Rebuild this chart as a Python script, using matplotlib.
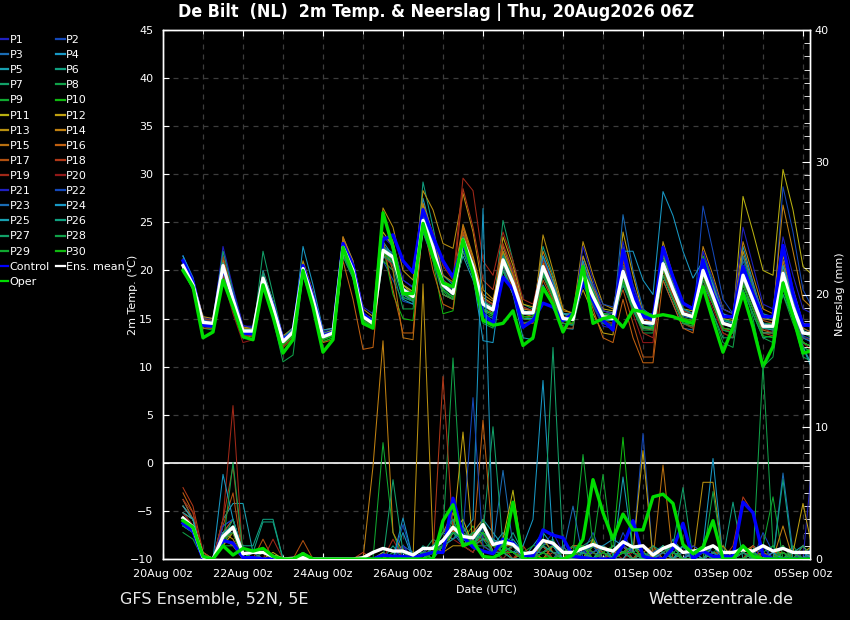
import numpy as np
import pandas as pd
import matplotlib
matplotlib.use('Agg')
import matplotlib.pyplot as plt
from matplotlib.lines import Line2D
from matplotlib.ticker import MultipleLocator

# ---------------- data ----------------
run_first_step = '2026-08-20 12:00'
n_steps = 64
times = pd.date_range(run_first_step, periods=n_steps, freq='6h')

major_tick_dates = pd.date_range('2026-08-20', '2026-09-05', freq='2D')
major_tick_labels = ['20Aug 00z', '22Aug 00z', '24Aug 00z', '26Aug 00z', '28Aug 00z',
                     '30Aug 00z', '01Sep 00z', '03Sep 00z', '05Sep 00z']
minor_tick_dates = pd.date_range('2026-08-20', '2026-09-05', freq='1D')

member_names = ['P%d' % k for k in range(1, 31)]
cold_colors = ['#2020c0', '#1448b8', '#1a6cb4', '#1898c4', '#18a0b0',
               '#10a080', '#12a068', '#10a048', '#10a830', '#10b810']
warm_colors = ['#b8b010', '#c0a010', '#b89010', '#c08010', '#b87010',
               '#c06010', '#b05010', '#b03818', '#a02818', '#901818']
member_colors = cold_colors + warm_colors + cold_colors

# 2m temperature (degC), 6-hourly
t01 = [21.5,19.3,15.1,15.0, 22.0,18.0,14.2,14.2, 19.7,16.7,13.1,14.1, 20.2,17.3,13.6,14.0, 23.4,21.0,16.2,15.5, 23.6,22.7,19.0,18.3, 26.2,23.4,19.5,18.6, 23.2,20.4,16.5,15.9, 20.1,17.7,14.6,14.6, 21.4,18.8,15.5,15.4, 18.7,16.3,14.2,14.0, 21.9,18.3,15.6,15.5, 21.7,19.0,16.5,16.2, 22.0,18.8,15.5,15.2, 21.5,18.4,15.2,15.2, 22.7,18.2,14.5,14.4]
t02 = [20.0,18.2,14.3,14.2, 21.0,17.5,13.9,13.8, 19.5,16.4,12.9,13.7, 20.8,17.4,13.4,13.8, 22.0,19.5,15.0,14.6, 21.0,19.0,16.8,16.5, 24.0,21.0,17.5,17.0, 22.0,19.5,16.0,15.5, 22.5,19.8,16.2,15.8, 19.5,17.2,14.5,14.3, 21.0,18.0,15.5,15.2, 22.5,18.5,15.5,15.0, 19.5,17.0,14.8,14.5, 26.7,22.0,17.0,15.5, 21.0,18.0,15.0,14.8, 28.7,24.0,18.0,16.0]
t03 = [20.8,18.8,14.8,14.6, 20.2,16.8,13.5,13.5, 19.0,16.0,12.4,13.4, 19.8,16.8,13.0,13.3, 22.8,20.3,15.5,14.8, 22.5,21.8,18.5,17.8, 24.5,22.0,18.0,17.2, 24.0,21.0,17.0,16.4, 20.5,18.0,15.0,15.0, 21.5,18.8,15.5,15.3, 18.5,16.5,14.5,14.4, 25.8,20.0,16.0,15.2, 19.0,16.5,14.0,13.8, 20.8,18.0,15.0,14.6, 18.5,16.0,13.5,13.6, 21.0,17.0,14.0,13.5]
t04 = [21.5,19.0,15.0,14.8, 19.8,16.5,13.4,13.4, 19.5,16.4,12.8,13.8, 20.5,17.2,13.3,13.6, 21.5,19.2,14.8,14.2, 23.0,21.5,17.5,16.8, 27.5,23.5,19.0,18.0, 22.5,19.8,16.0,15.4, 22.0,19.2,16.0,15.8, 18.5,16.5,14.0,13.9, 20.5,17.8,15.5,15.3, 18.5,16.0,14.0,14.0, 21.5,18.5,15.8,15.5, 18.5,16.5,14.0,13.8, 22.5,18.8,15.2,14.8, 19.0,16.0,13.0,12.5]
t05 = [21.2,18.8,14.5,14.3, 20.8,17.2,13.8,13.9, 20.0,16.8,12.9,13.7, 20.0,17.0,13.2,13.5, 22.0,19.5,14.6,14.0, 21.5,20.5,17.0,16.5, 26.5,23.0,18.8,18.0, 21.5,19.0,15.5,15.0, 20.5,17.5,13.0,12.8, 19.8,17.5,14.5,14.4, 21.5,18.5,15.8,15.6, 19.5,16.5,14.2,14.0, 22.0,19.0,16.0,15.5, 19.5,17.0,14.0,13.8, 20.5,17.5,14.5,14.2, 18.5,15.0,12.0,9.5]
t06 = [20.2,18.3,14.4,14.3, 20.0,16.8,13.5,13.6, 19.3,16.3,12.6,13.5, 20.8,17.5,13.5,13.8, 22.5,20.2,15.4,14.8, 22.0,21.0,17.8,17.0, 29.2,24.5,19.5,18.5, 23.5,20.8,16.8,16.0, 21.8,19.0,15.8,15.6, 22.5,19.5,15.5,15.0, 19.0,16.8,14.8,14.8, 20.5,17.5,15.0,14.8, 20.0,17.5,15.0,14.8, 21.5,18.5,15.0,14.5, 18.0,15.5,13.0,13.2, 20.5,17.0,13.8,13.2]
t07 = [20.6,18.4,14.2,14.0, 20.4,17.0,13.4,13.2, 22.0,17.5,13.0,13.8, 19.5,16.5,12.8,13.2, 22.2,19.8,15.0,14.4, 21.8,20.8,17.5,17.0, 25.0,22.0,18.2,17.5, 22.8,20.0,16.0,15.5, 25.2,21.0,16.5,16.0, 20.0,17.5,14.8,14.8, 20.5,18.0,15.5,15.5, 19.0,16.2,14.0,14.2, 21.0,18.2,15.5,15.0, 19.0,16.5,13.8,13.5, 20.0,17.5,14.5,14.5, 20.0,16.5,13.0,12.8]
t08 = [20.0,18.0,14.0,13.8, 19.8,16.5,13.2,13.3, 18.5,15.0,10.5,11.2, 19.5,16.2,12.6,13.0, 21.5,19.2,14.5,14.0, 21.0,20.0,16.0,16.0, 24.0,21.5,17.8,17.0, 22.5,19.8,14.5,14.0, 21.0,18.0,14.5,14.8, 20.8,18.5,15.2,15.0, 18.8,16.5,14.5,14.2, 19.0,16.0,13.5,13.5, 20.5,17.8,15.0,14.5, 18.5,15.5,12.5,12.0, 19.0,15.0,10.0,11.0, 18.5,15.0,11.0,10.5]
t09 = [20.4,18.6,14.7,14.6, 20.6,17.2,13.9,13.8, 19.0,16.0,12.5,13.4, 20.4,17.2,13.2,13.6, 22.0,19.8,15.2,14.6, 22.5,21.5,18.2,17.5, 25.5,22.8,18.8,17.8, 23.0,20.5,16.5,16.0, 21.5,19.0,15.5,15.5, 20.5,18.0,15.0,14.8, 19.5,17.0,14.8,14.5, 21.0,17.5,15.0,14.8, 19.5,17.0,14.5,14.0, 21.0,18.0,15.0,14.5, 19.5,17.0,14.5,14.3, 17.5,14.5,12.0,11.5]
t10 = [20.1,18.1,14.2,14.1, 20.0,16.6,13.3,13.2, 18.8,15.8,12.0,13.0, 19.8,16.5,12.6,13.0, 22.2,19.5,14.8,14.0, 22.5,17.5,15.0,14.8, 24.5,21.0,15.5,15.8, 23.0,20.0,14.8,15.5, 22.0,19.0,15.2,15.0, 21.0,18.5,15.5,15.2, 20.2,17.8,15.5,15.2, 20.5,17.2,15.0,15.0, 22.0,19.0,16.5,16.0, 21.5,19.0,16.0,15.5, 21.5,18.0,15.5,15.0, 20.0,16.0,12.5,12.0]
t11 = [20.7,18.7,14.8,14.7, 20.9,17.4,14.0,14.0, 19.6,16.6,12.9,13.9, 20.6,17.4,13.4,13.8, 23.0,20.5,15.6,14.9, 24.0,22.5,18.5,17.8, 26.8,23.5,19.0,18.2, 24.5,21.2,17.2,16.5, 21.0,18.5,15.5,15.5, 21.0,18.5,15.5,15.3, 20.5,18.0,16.0,15.8, 19.5,16.5,14.5,14.5, 21.5,18.8,16.0,15.8, 20.5,17.8,15.0,14.8, 27.7,24.0,20.0,19.5, 30.5,26.3,20.4,19.5]
t12 = [20.3,18.2,14.4,14.3, 20.3,16.9,13.6,13.6, 19.0,16.0,12.4,13.4, 20.0,16.8,13.0,13.4, 22.5,20.0,15.2,14.6, 25.5,23.0,18.5,17.5, 24.5,22.0,17.5,17.0, 22.0,19.5,15.8,15.5, 23.5,20.5,16.5,16.2, 20.8,18.2,15.5,15.3, 18.0,15.5,13.5,13.3, 24.0,19.5,15.5,15.0, 20.0,17.2,14.8,14.5, 21.0,18.2,15.2,15.0, 20.0,17.2,14.5,14.2, 21.5,18.0,14.5,14.0]
t13 = [20.9,19.0,15.2,15.0, 21.2,17.6,14.1,14.0, 19.8,16.8,13.2,14.0, 21.0,17.8,13.8,14.0, 23.5,21.0,16.0,15.2, 26.5,24.5,20.0,19.0, 28.3,26.3,22.8,22.3, 28.0,24.0,18.0,17.0, 21.5,18.5,15.0,14.8, 23.7,20.0,16.0,15.5, 23.0,19.5,16.5,16.0, 21.5,17.0,14.0,14.0, 23.0,19.5,16.5,16.0, 19.5,17.0,14.5,14.2, 22.0,18.5,15.0,14.8, 20.5,17.0,13.5,13.5]
t14 = [20.4,18.4,14.5,14.4, 20.7,17.3,13.8,13.7, 19.4,16.4,12.7,13.7, 20.3,17.1,13.2,13.6, 23.2,20.5,15.5,14.8, 26.0,22.0,17.5,17.0, 27.0,23.8,19.5,18.8, 24.8,21.5,17.5,16.8, 22.0,19.5,16.0,15.8, 22.0,19.2,15.8,15.6, 21.5,18.5,15.8,15.5, 20.5,17.5,15.0,14.8, 19.5,17.0,14.5,14.2, 22.5,19.5,16.0,15.5, 23.0,19.5,16.0,15.5, 26.8,22.0,17.0,16.0]
t15 = [20.6,18.6,14.7,14.6, 20.0,16.5,13.2,13.3, 19.0,16.0,12.5,13.5, 20.0,16.8,12.9,13.3, 23.5,20.5,15.0,14.5, 23.0,20.0,13.0,12.8, 25.5,22.0,17.5,17.0, 23.8,20.8,16.8,16.2, 22.5,19.5,15.5,15.2, 21.0,18.5,15.2,15.0, 20.0,17.5,15.0,14.8, 20.5,17.0,14.0,13.8, 20.0,17.5,15.0,14.8, 20.5,17.5,14.5,14.0, 19.0,16.5,13.8,13.5, 21.0,17.5,14.0,13.5]
t16 = [20.2,18.0,14.0,14.0, 19.5,16.0,13.0,13.2, 18.5,15.5,12.2,13.2, 20.0,16.5,12.5,12.8, 21.0,17.0,11.8,12.0, 22.8,18.0,13.5,13.5, 25.0,20.0,16.5,16.0, 24.5,21.0,16.5,15.5, 21.0,18.0,15.0,15.0, 19.5,17.0,14.5,14.5, 19.0,16.0,13.0,12.5, 17.0,13.0,10.4,10.4, 19.0,16.5,14.0,13.5, 19.5,16.5,13.5,13.0, 18.5,16.0,13.5,13.5, 19.0,15.5,12.5,12.0]
t17 = [20.8,18.7,14.7,14.5, 20.6,17.1,13.6,13.5, 19.5,16.4,12.7,13.7, 20.6,17.3,13.3,13.7, 21.8,19.5,14.8,14.2, 22.5,21.5,17.8,17.2, 25.8,23.0,18.8,18.0, 24.0,21.0,17.0,16.5, 20.0,17.5,14.5,14.5, 19.0,16.8,14.0,14.0, 20.8,18.2,15.5,15.2, 18.0,14.5,11.0,11.0, 22.0,18.5,15.5,15.0, 19.0,16.5,14.0,13.8, 20.0,17.5,14.8,14.5, 20.0,16.5,13.5,13.0]
t18 = [20.3,18.3,14.5,14.4, 21.5,17.5,13.4,13.5, 19.4,16.2,12.4,13.3, 20.1,16.9,13.0,13.3, 22.6,20.0,15.0,14.4, 22.2,21.0,17.5,17.0, 25.0,22.5,19.0,18.2, 28.5,24.5,19.0,18.0, 22.8,20.0,16.2,15.8, 20.0,17.5,15.0,14.8, 20.0,17.5,15.2,15.0, 21.0,17.5,15.0,14.5, 21.0,18.5,15.8,15.5, 20.0,17.0,14.0,13.5, 19.0,16.5,13.5,13.2, 18.5,15.5,12.5,12.0]
t19 = [21.0,19.0,15.0,14.8, 20.5,16.8,13.2,13.3, 18.5,15.5,12.0,13.0, 20.0,16.8,13.0,13.3, 22.0,19.5,14.5,14.0, 21.5,20.5,17.5,17.0, 26.0,24.0,20.5,19.0, 29.6,28.3,21.0,19.5, 24.0,21.0,17.0,16.5, 21.0,18.5,15.5,15.2, 20.5,18.0,15.5,15.0, 20.0,16.5,13.5,13.0, 20.0,17.0,14.5,14.0, 20.5,17.5,14.0,13.5, 19.5,17.0,14.0,13.8, 19.5,16.0,12.5,11.5]
t20 = [20.5,18.5,14.6,14.5, 19.2,15.5,12.5,12.8, 19.8,16.5,12.8,13.8, 20.4,17.1,13.3,13.6, 22.4,19.8,15.0,14.3, 21.8,21.0,17.8,17.2, 24.8,22.0,18.5,17.6, 23.5,20.8,17.0,16.4, 20.5,18.2,15.2,15.2, 20.0,17.8,15.0,14.8, 19.5,17.0,14.8,14.5, 19.0,15.5,12.5,12.5, 20.5,17.5,15.0,14.5, 18.5,16.0,13.5,13.0, 20.5,17.5,14.0,13.5, 19.0,16.0,13.0,12.8]
t21 = [21.0,18.9,14.8,14.7, 22.5,18.2,14.3,14.0, 19.6,16.5,12.8,13.7, 20.5,17.2,13.4,13.7, 22.9,20.5,15.6,14.9, 23.5,22.5,19.0,18.2, 26.5,23.5,19.0,18.0, 22.5,20.0,16.5,16.0, 21.5,19.0,15.8,15.6, 21.5,18.5,15.0,14.8, 22.5,19.0,15.8,15.5, 23.0,18.5,15.5,15.0, 22.5,19.5,16.5,16.0, 22.0,19.0,16.0,15.5, 24.5,20.5,16.5,16.0, 23.5,19.5,16.0,15.5]
t22 = [20.3,18.3,14.4,14.3, 20.3,16.9,13.6,13.6, 19.1,16.1,12.5,13.5, 20.0,16.9,13.0,13.4, 22.2,19.8,15.1,14.5, 22.0,21.2,17.8,17.2, 25.0,22.2,18.3,17.5, 23.0,20.2,16.4,15.8, 21.2,18.8,15.8,15.6, 20.5,18.0,15.0,14.8, 20.0,18.5,16.5,16.2, 20.5,17.5,15.5,15.0, 21.0,18.5,16.0,15.5, 20.5,17.5,14.8,14.5, 19.5,17.0,14.5,14.2, 19.5,16.0,13.2,12.8]
t23 = [20.7,18.6,14.6,14.5, 20.6,17.1,13.8,13.8, 19.3,16.3,12.7,13.6, 20.2,17.0,13.1,13.5, 22.6,20.2,15.4,14.7, 22.3,21.6,18.2,17.5, 25.3,22.5,18.6,17.8, 23.2,20.5,16.6,16.0, 20.8,18.5,15.5,15.4, 20.0,17.8,15.0,14.9, 19.5,17.2,15.0,14.8, 19.5,16.5,14.5,14.3, 20.5,17.8,15.2,15.0, 20.0,17.3,14.5,14.0, 21.5,18.5,15.5,15.2, 19.0,15.8,13.0,12.5]
t24 = [21.5,19.2,14.8,14.5, 20.3,16.8,13.4,13.4, 19.2,16.4,12.8,13.6, 22.5,18.5,13.8,14.0, 22.0,19.5,15.0,14.5, 21.5,20.8,17.2,16.8, 26.0,22.8,18.5,17.5, 22.0,19.5,12.7,12.5, 20.0,17.5,15.0,15.0, 20.5,18.0,15.5,15.5, 21.0,18.0,15.5,15.2, 22.0,22.0,19.0,17.5, 28.2,25.7,22.0,19.2, 21.0,18.5,15.5,15.0, 20.0,17.5,14.5,14.0, 20.5,17.0,13.5,13.0]
t25 = [20.9,18.8,14.7,14.5, 20.8,17.3,13.8,13.9, 19.5,16.5,12.9,13.8, 20.5,17.3,13.3,13.6, 22.2,19.8,15.0,14.4, 22.0,21.2,17.5,17.0, 25.5,22.8,18.5,17.6, 23.0,20.0,16.0,15.5, 21.0,18.5,15.5,15.5, 21.5,18.8,15.5,15.2, 19.0,17.0,15.0,14.8, 20.0,17.0,14.5,14.2, 21.0,18.5,15.5,15.0, 20.0,17.5,14.5,14.0, 19.5,17.0,14.0,13.8, 19.5,16.0,12.0,10.0]
t26 = [20.5,18.5,14.6,14.5, 20.2,16.8,13.5,13.5, 19.8,16.8,13.0,14.0, 20.2,17.0,13.1,13.5, 22.5,20.0,15.3,14.6, 22.5,21.5,17.8,17.2, 24.5,22.0,18.5,17.8, 23.5,20.8,16.8,16.2, 21.5,19.0,15.8,15.6, 20.0,17.5,14.8,14.8, 19.8,17.5,15.5,15.2, 19.5,16.5,14.5,14.5, 21.5,19.0,16.0,15.5, 20.0,17.5,14.8,14.5, 19.0,16.5,14.0,14.0, 19.0,15.5,12.5,12.0]
t27 = [20.3,18.3,14.3,14.2, 22.0,17.8,13.8,13.5, 19.5,16.5,12.6,13.5, 20.0,16.8,13.0,13.4, 21.8,19.5,15.0,14.5, 22.0,21.0,17.5,17.0, 24.8,22.0,18.0,17.2, 22.5,20.0,16.2,15.8, 20.5,18.5,15.5,15.5, 19.5,17.5,15.0,14.8, 19.0,17.0,15.0,15.0, 18.5,16.0,14.0,14.0, 19.5,17.0,14.5,14.5, 18.0,15.5,13.0,13.0, 18.5,16.0,13.5,13.5, 17.5,15.0,12.5,12.0]
t28 = [20.0,18.0,14.3,14.2, 20.1,16.7,13.5,13.5, 18.8,15.8,12.3,13.2, 19.8,16.7,12.9,13.2, 22.0,19.5,14.8,14.2, 21.5,20.8,17.2,16.8, 24.0,21.2,17.5,17.0, 22.0,19.5,15.8,15.2, 20.0,17.8,15.0,14.8, 19.5,17.2,14.5,14.3, 18.5,16.5,14.5,14.2, 18.8,15.8,13.8,13.8, 19.5,17.0,14.5,14.2, 19.0,16.5,13.8,13.5, 18.0,15.5,13.0,12.5, 18.0,15.0,12.0,11.5]
t29 = [20.6,18.5,14.6,14.5, 20.4,17.0,13.7,13.7, 19.2,16.2,12.6,13.6, 20.3,17.1,13.2,13.6, 22.3,20.0,15.2,14.5, 22.2,21.4,18.0,17.3, 25.0,22.3,18.5,17.5, 23.0,20.3,16.5,15.8, 21.0,18.6,15.6,15.5, 20.5,18.0,15.0,15.0, 19.5,17.5,15.2,15.0, 19.5,16.8,14.5,14.5, 20.5,18.0,15.5,15.2, 19.5,17.0,14.5,14.2, 19.5,17.0,14.2,14.0, 19.5,16.5,13.5,13.0]
t30 = [20.2,18.2,14.3,14.3, 20.1,16.7,13.4,13.4, 19.0,16.0,12.3,13.3, 19.9,16.7,12.8,13.2, 22.1,19.7,15.0,14.3, 21.8,21.0,17.6,17.0, 24.8,22.0,18.0,17.2, 22.8,20.0,16.0,15.5, 20.8,18.5,15.2,15.2, 20.0,17.5,14.8,14.5, 20.0,17.8,15.5,15.2, 19.0,16.5,14.2,14.0, 20.0,17.8,15.0,14.8, 19.5,16.8,14.0,13.8, 18.5,16.0,13.2,13.0, 19.0,15.5,12.5,12.0]
t_control = [21.0,18.8,14.3,14.2, 20.3,17.2,13.5,13.4, 19.0,16.4,12.8,13.6, 20.5,17.3,13.2,13.5, 22.8,20.5,15.5,14.6, 23.2,23.7,21.0,19.8, 26.3,23.5,21.0,19.3, 22.8,19.7,15.5,14.5, 19.3,18.0,14.1,14.8, 16.6,16.2,14.8,15.5, 18.7,16.9,14.8,13.8, 22.1,17.6,15.2,14.9, 22.4,19.3,16.6,16.0, 21.1,17.6,15.2,15.2, 20.4,17.6,15.2,15.2, 22.6,17.6,14.3,14.3]
t_oper = [20.0,18.3,13.0,13.6, 19.0,16.2,13.1,12.8, 18.5,15.2,11.4,12.8, 20.0,16.2,11.5,12.8, 22.4,19.7,14.5,14.0, 26.0,22.4,17.6,17.6, 24.9,21.4,18.7,18.3, 23.2,19.7,14.8,14.3, 14.5,15.8,12.2,13.0, 18.2,16.5,13.6,15.5, 20.4,14.5,15.0,15.2, 14.1,15.9,15.7,15.2, 15.4,15.2,14.8,14.5, 18.3,14.8,11.5,14.1, 17.6,14.1,10.0,12.1, 18.7,15.2,11.4,11.7]
t_mean = [20.5,18.5,14.6,14.5, 20.5,17.0,13.7,13.7, 19.2,16.2,12.6,13.6, 20.2,17.0,13.1,13.5, 22.4,20.0,15.2,14.5, 22.1,21.4,18.0,17.3, 25.2,22.4,18.5,17.6, 23.2,20.4,16.5,15.9, 21.1,18.7,15.6,15.6, 20.4,18.0,15.0,14.9, 19.7,17.3,15.2,15.0, 19.9,16.8,14.6,14.5, 20.7,18.0,15.5,15.2, 20.0,17.3,14.5,14.2, 19.5,16.9,14.2,14.2, 19.7,16.2,13.5,13.4]

# 6-hourly precipitation (mm)
r01 = [3.5,2.5,0,0, 2,3,0.5,0, 0.5,0,0,0, 0,0,0,0, 0,0,0,0, 0,0.5,1,0, 0.5,1,2,3, 1,2,3,0.5, 0.5,1,0,0, 1,2,0.5,0, 0,1,0.5,0, 1,0,0.5,0, 0,1,0,0, 0,1,0,0, 0,0.5,1,0, 0,0.5,0,8]
r02 = [2.5,2,0,0, 1.5,2.5,0,0, 0,0,0,0, 0,0,0,0, 0,0,0,0, 0,0,0.5,0, 0,0.5,1,2, 2,1,2,0.5, 1,0.5,0,0, 0.5,1,0,1, 0.5,2,0,0, 2,0.5,9.5,0, 0,0.5,0,0, 1,0.5,0,0, 0.5,0,2,0.5, 1,0,0,0.5]
r03 = [3,2.5,0.5,0, 2,2,0,0.5, 0,0,0,0, 0,0,0,0, 0,0,0,0, 0,0,1,0.5, 0.5,0,1.5,2, 1,2,2.5,1, 6.7,1,0,0.5, 1,0.5,0,0, 0,1,1,0.5, 0.5,1,0,0, 1,0.5,0,0, 0,1,0.5,0, 0.5,0,1,0, 6.5,0.5,0,0]
r04 = [4,3,0,0, 2.5,3,0.5,0, 0,0,0,0, 0,0,0,0, 0,0,0,0, 0,0,2,0, 0,0.5,2,1.5, 2,3,26.5,1, 2,1,0,1, 2,1,0,0, 0.5,0,1,1.5, 1,0,0.5,0, 0.5,0,1,0, 1,7.6,0,0, 0,1,0.5,0, 0,0.5,0,0]
r05 = [4.5,3,0,0, 3,4.2,4.2,0.5, 0.5,0,0,0, 0,0,0,0, 0,0,0,0, 0.5,0,0.5,0, 0,0.5,1,2.5, 1.5,1,3,2, 1,0.5,0.5,0, 1,0,0,1, 1,0.5,0,0.5, 0.5,1,0,0.5, 0,1.5,0.5,0, 0.5,0,0,0.5, 1,0,0,0, 0,0.5,1,0]
r06 = [3,2.5,0,0, 1.5,2,1,1, 3,3,0,0, 0,0,0,0, 0,0,0,0, 0,1,0,0, 1,0.5,1,3.5, 2,1.5,2,0.5, 0.5,2,0.5,0, 1.5,0.5,0.5,0, 0.5,1,0,0, 0.5,0.5,1,0, 1,0.5,0,0.5, 0,1,0,4.3, 0,0.5,0,1, 0,0,0.5,0]
r07 = [2.5,2,0,0, 1,2.5,0.5,0, 0.5,0,0,0, 0,0,0,0, 0,0,0,0, 0,0,0,0.5, 0.5,1.5,1,3, 1,0.5,2,10, 1,0.5,0,0.5, 1,1.5,0,0, 1,1.5,0.5,0, 1,0,0.5,0, 0,1,5.4,0, 1,0,0.5,0, 0,1,0,0, 1,0,0,0]
r08 = [2,1.5,0,0, 1,1,0,0, 0.5,0,0,0, 0.5,0,0,0, 0,0,0,0, 0,0,0,0, 0,1,2,15.2, 2,1,1,0.5, 0,1,0.5,0, 1,0,1,0, 0.5,0,1,0.5, 1,0.5,0,0, 0.5,0,0,0, 1,0,0,0, 0.5,0,14.7,1, 0,1,0,0]
r09 = [3,2,0,0, 1.5,2,0,0, 0,0,0,0, 0,0,0,0, 0,0,0,0, 8.8,2,0,0, 0.5,0,1,2, 1.5,2.5,1,1, 0.5,0,0.5,1, 1,0,0,0.5, 7.9,1,0,0, 0.5,1,0.5,0, 1,0,0.5,0, 0,0.5,1,0, 0.5,0,1,4.7, 0,0.5,0,0]
r10 = [2.8,2.2,0,0, 1.5,2.5,0.5,0, 0,0,0,0, 0,0,0,0, 0,0,0,0, 0,0.5,0,0, 0,0.5,1,2.5, 2,1,1.5,1, 1,0.5,0,0, 0.5,1,0.5,0.5, 0,1,0.5,1, 9.2,0.5,0,0, 0.5,0,1,0.5, 0,0.5,0,0, 1,0.5,0,0, 0.5,0,0,0]
r11 = [3.5,3,0.5,0, 2,2.5,0,0, 0,0.5,0,0, 0,0,0,0, 0,0,0,0, 0.5,0,0,0, 0.5,1,0.5,2, 3,1,2,0.5, 1.5,5.2,0,0.5, 0.5,1,0,1, 1,0,0.5,0, 1,0.5,0,0.5, 0,1,0,0.5, 1,0,0,0, 0.5,1,0,0, 0,0.5,0.5,1]
r12 = [3,2,0,0, 1,2,0,0, 0,0,0,0, 0,0,0,0, 0,0,0,0, 0,0,0,0, 0.5,0.5,1,2, 9.6,1,2.5,0.5, 0.5,0.5,0,0, 1,0,0.5,0, 0,1.5,0,0.5, 1,0.5,8.2,0, 1,0.5,0,0, 0,0.5,0,0, 1,0,0.5,0, 0,0.5,4.2,0.5]
r13 = [4,3,0,0, 2,1.5,0,0, 0,0,0,0, 0,0,0,0, 0,0,0,0, 0,0,0,0, 20.8,1,0.5,1, 1,2,3,0.5, 1,1,0,0.5, 0,1,0.5,0, 0.5,0,1,0, 0.5,0,1,0, 0,0,0.5,0, 5.8,5.8,0,0, 0.5,0,0,0, 1,0,0.5,0]
r14 = [3.5,2.5,0,0, 1.5,1,0,0, 0,0,0,0, 0,0,0,0, 0,0,0,7, 16.5,2,0.5,0, 0,1,2,3.5, 1.5,1,2,1, 0.5,0,0.5,0, 1.5,0.5,0,0, 0,0.5,1,0.5, 0.5,0,0.5,1, 0,0.5,0,0, 0.5,0,1,0, 0,0.5,0,0, 2.5,0,0,0.5]
r15 = [4,3,0,0, 1.5,2,0,0.5, 0,0,0,0, 0,0,0,0, 0,0,0,0, 0,0,0,0, 0,0.5,1,2, 2,1,1.5,1.5, 1,0.5,0,0.5, 0,1,0,0, 1,0.5,0,0, 0.5,1,0,0, 7.1,0,0,0.5, 0,0.5,0,0, 1,0,0,0.5, 0,0.5,0,0]
r16 = [5,3.5,0,0, 2,3,0,0, 0,0,0,0, 0,0,0,0, 0,0,0,0, 0,0,0,0, 0,0.5,1.5,2, 2.5,1,10.5,1, 0.5,1,0,0, 0.5,0,1,0, 0.5,0,0,1, 0.5,1,0.5,0, 1,0,0,0, 0,0.5,0,0, 0,1,0,0.5, 0.5,0,1,0]
r17 = [4.5,3,0,0, 2.5,5,0,0, 1.5,0,0,0, 1.4,0,0,0, 0,0,0,0, 0,0,0,0, 0,1,2,2.5, 1,0.5,2,1, 1,0,0.5,0, 0.5,1,0,0.5, 0,1,0.5,0, 1,0,0.5,0, 0.5,1,0,0, 0,0.5,0.5,0, 1,0,0,0, 0.5,0,0.5,0]
r18 = [5.4,4,0.5,0, 3,7,0,0, 0,0,0,0, 0,0,0,0, 0,0,0.5,0, 0,0,0,0, 0,0.5,13.8,2, 2,1,1.5,1, 0.5,0,1,0, 0,0.5,0,1, 1,0.5,0,0, 0.5,0,1,0.5, 0,1,0,0.5, 0,0.5,0,1, 4.7,3.5,0.5,0, 0,0.5,0,0]
r19 = [4.5,3.5,0,0, 3,11.6,0,0, 0,1.5,0,0, 0.5,0,0,0, 0,0,0,0, 0,1.5,0,0, 0,0.5,1,2, 1.5,2,1,0.5, 0.5,0.5,0,0, 1,0,0.5,0, 0,0.5,0,0.5, 0,1,0,0, 0.5,0,0,1, 0.5,0,0,0, 0,1,0,0, 0.5,0,0,0.5]
r20 = [3.5,2.5,0,0, 1.5,2,0,0, 0.5,0,0,0, 0,0,0,0, 0,0,0,0, 0,0,0,0, 0,0.5,1,1.5, 1,0.5,2,1, 0,1,0,0.5, 0.5,0,0,0, 1,0,0.5,0, 0,0.5,0,0, 0.5,0,0,0, 0,1,0,0, 0.5,0,0,0, 0,0,0.5,0]
r21 = [3,2.5,0,0, 2.5,3,0.5,0, 0,0,0,0, 0,0,0,0, 0,0,0,0, 0,0,1,0, 0.5,1,1.5,2, 2,1,2,1, 1,0.5,0,0.5, 1.5,1,0,0, 0.5,0.5,1,0, 0.5,0,0,0.5, 0,0.5,0,0.5, 0,0,0.5,0, 0.5,0,1,0, 0,0.5,0,0]
r22 = [2.5,2,0,0, 2,2.5,0,0, 0,0,0,0, 0,0,0,0, 0,0,0,0, 0,0,2.6,0, 0,0.5,1,1.5, 2,12.2,1,0.5, 1,0.5,0,0, 0.5,0,1,0, 0.5,1,0,0, 1,0.5,0,0, 0,0.5,0,1, 0.5,0,0,0, 0,0.5,0,0.5, 0,0,0.5,0]
r23 = [3,2,0,0, 1.5,2.5,0,0.5, 0,0,0,0, 0,0,0,0, 0,0,0,0, 0,0,0,0, 0.5,0.5,1.5,2.5, 1,1.5,2,0.5, 0.5,0,0,0.5, 0.5,0,0.5,4, 0,0.5,1,0, 0.5,0,0,0.5, 1,0,0.5,0, 0,0.5,0,0, 0.5,0,0,0, 0.5,0,0,0.5]
r24 = [4,3,0,0, 6.4,3,0.5,0, 0,0,0,0, 0,0,0,0, 0,0,0,0, 0,0,3.1,0, 0,0.5,1,2, 1.5,1,2,1.5, 1,0.5,1,3, 13.5,1,0,0.5, 0.5,0,1,0, 0,1,0.5,0, 0.5,0,1,0, 0,0.5,0,0, 1,0,0,0.5, 0,0.5,0,1]
r25 = [3.5,3,0,0, 2,2.5,0.5,0, 0,0,0,0, 0,0,0,0, 0,0,0,0, 0,0,0,0, 0,1,1.5,2, 1.5,1,2.5,1, 1,1.5,0.5,0, 0.5,1,0,0.5, 1,0,0.5,0, 6.2,0.5,0,0, 1,0.5,0,0.5, 0,1,0,0, 0.5,0,0,0, 0,0.5,0.5,0]
r26 = [3,2.5,0,0, 1.5,2.5,0.5,0.5, 2.8,2.8,0,0, 0,0,0,0, 0,0,0,0, 0,0,0,0, 0.5,0,1,1.5, 2.5,1,1.5,1.5, 0.5,1,0,0, 1,0.5,0,0, 0.5,0,1,0, 0.5,1,0,0, 0,0.5,1,0, 0.5,0,0,0, 0,0.5,0,0, 6,0,0,0]
r27 = [2.5,2,0,0, 1.5,3,0.5,0, 0,0,0,0, 0,0,0,0, 0,0,0,0, 0,6,0.5,0, 0,1,2,3, 1,2,1.5,0.5, 0.5,0,0,0.5, 1,16,0.5,0, 0.5,0,0,1, 0.5,0,0,1, 0.5,1,0,0, 0,0.5,0,0, 1,0,0,0, 0.5,0,1,0]
r28 = [2.5,2,0,0, 1,7.3,0.5,0, 0.5,0,0,0, 0,0,0,0, 0,0,0,0, 0,0,0,0, 0.5,0.5,1,2, 2,1,3,1, 1,0.5,0,0, 0.5,1,0.5,0, 1,0.5,0,0, 0.5,0,0.5,0, 1,0,0,0, 0,5.1,0,0, 0.5,0,0,0, 1,0,0,0]
r29 = [3,2.5,0,0, 1.5,2,0,0, 0,0,0,0, 0.5,0,0,0, 0,0,0,0, 0,0,0,0, 0,0.5,1,2, 1.5,2,2,0.5, 1,0.5,0,0, 0.5,0,0.5,1, 0,1,6.4,0, 0.5,0.5,0,0, 0,1,0,0, 0.5,0,0,0, 0,0,0.5,1, 0,0.5,0,0]
r30 = [3,2,0,0, 1.5,2.5,0.5,0, 0,0,0,0, 0,0,0,0, 0,0,0,0, 0,0,0,0, 0,0.5,1.5,2.5, 2,1,2,1, 0.5,0.5,0,0, 0.5,0,0,0.5, 1,0,0.5,0, 0.5,1,0,0, 0,0.5,0,0, 1,0,0,0, 0,0.5,0,0, 0.5,0,0,0]
r_control = [2.7,2.1,0,0, 1.4,1.2,0.1,0.1, 0,0,0,0, 0,0,0,0, 0,0,0,0, 0.3,0.2,0.2,0.1, 0.3,0.5,0.5,4.6, 1.7,0.9,0.6,0.4, 1.5,1.2,0.3,0.2, 2.2,1.8,1.6,0.2, 0.1,0,0,0, 1.0,2.9,0.2,0, 0,0.8,2.7,0, 0.6,0.2,0.2,0.2, 4.3,3.5,0.3,0, 0,0,0,0]
r_oper = [2.9,2.4,0.2,0, 1.0,0.3,0.8,0.6, 0.8,0.2,0,0, 0.4,0,0,0, 0,0,0,0, 0,0,0,0, 0,0,2.9,4.1, 1.0,1.3,0.2,0.1, 0.5,4.3,0,0, 0,0,0,0.3, 1.5,6.0,3.5,1.5, 3.4,2.2,2.2,4.7, 4.9,4.2,1.1,0.4, 0.9,2.9,0,0, 1.0,0.2,0,0, 0,0,0,0]
r_mean = [3.1,2.4,0.15,0, 1.7,2.4,0.4,0.5, 0.5,0.2,0,0.05, 0.1,0,0,0, 0,0,0.1,0.5, 0.8,0.6,0.6,0.3, 0.8,0.8,1.4,2.4, 1.7,1.6,2.6,1.1, 1.3,1.1,0.4,0.5, 1.4,1.2,0.5,0.5, 0.8,1.1,0.8,0.6, 1.3,0.9,1.0,0.3, 0.8,1.1,0.5,0.6, 0.7,1.0,0.5,0.5, 0.7,0.6,1.0,0.6, 0.8,0.5,0.5,0.5]

member_temps = [t01, t02, t03, t04, t05, t06, t07, t08, t09, t10, t11, t12, t13, t14, t15,
                t16, t17, t18, t19, t20, t21, t22, t23, t24, t25, t26, t27, t28, t29, t30]
member_precs = [r01, r02, r03, r04, r05, r06, r07, r08, r09, r10, r11, r12, r13, r14, r15,
                r16, r17, r18, r19, r20, r21, r22, r23, r24, r25, r26, r27, r28, r29, r30]

title = 'De Bilt  (NL)  2m Temp. & Neerslag | Thu, 20Aug2026 06Z'

# ---------------- figure ----------------
W, H = 850, 620
fig = plt.figure(figsize=(W / 100, H / 100), dpi=100, facecolor='black')
ax = fig.add_axes([163 / W, 1 - 559 / H, (810 - 163) / W, (559 - 30) / H], facecolor='black')
ax2 = ax.twinx()

ctrl_color = '#0000ff'
oper_color = '#00dd00'
mean_color = 'white'

for t, c in zip(member_temps, member_colors):
    ax.plot(times, t, color=c, lw=0.75, zorder=2)
ax.plot(times, t_control, color=ctrl_color, lw=2.4, zorder=3)
ax.plot(times, t_mean, color=mean_color, lw=2.4, zorder=4)
ax.plot(times, t_oper, color=oper_color, lw=2.4, zorder=5)
ax.axhline(0, color='white', lw=1.2, zorder=1.5)

for r, c in zip(member_precs, member_colors):
    ax2.plot(times, r, color=c, lw=0.75, zorder=2)
ax2.plot(times, r_control, color=ctrl_color, lw=2.4, zorder=3)
ax2.plot(times, r_mean, color=mean_color, lw=2.4, zorder=4)
ax2.plot(times, r_oper, color=oper_color, lw=2.4, zorder=5)

ax.set_xlim(pd.Timestamp('2026-08-20 00:00'), pd.Timestamp('2026-09-05 04:12'))
ax.set_ylim(-10, 45)
ax.set_yticks(np.arange(-10, 46, 5))
ax2.set_ylim(0, 40)
ax2.set_yticks([0, 10, 20, 30, 40])
ax2.yaxis.set_minor_locator(MultipleLocator(1))

ax.set_xticks(major_tick_dates)
ax.set_xticklabels(major_tick_labels)
ax.set_xticks(minor_tick_dates, minor=True)

grid_kw = dict(color='#3c3c3c', linestyle=(0, (4, 4)), linewidth=0.9)
ax.grid(which='both', axis='x', **grid_kw)
ax.grid(which='major', axis='y', **grid_kw)
ax.set_axisbelow(True)

for a in (ax, ax2):
    for s in a.spines.values():
        s.set_color('white')
        s.set_linewidth(1.0)
ax.tick_params(axis='x', which='both', direction='in', top=True, colors='white', labelsize=8, pad=7)
ax.tick_params(axis='x', which='major', length=4)
ax.tick_params(axis='x', which='minor', length=3)
ax.tick_params(axis='y', direction='in', colors='white', labelsize=8, length=4, pad=7)
ax2.tick_params(axis='y', which='both', direction='in', colors='white', labelsize=8)
ax2.tick_params(axis='y', which='major', length=6)
ax2.tick_params(axis='y', which='minor', length=4)

ax.set_ylabel('2m Temp. (°C)', color='white', fontsize=8, labelpad=-6)
ax2.set_ylabel('Neerslag (mm)', color='white', fontsize=8, labelpad=4.5)
ax.set_xlabel('Date (UTC)', color='white', fontsize=8, labelpad=4)

fig.text(436 / W, 1 - 12 / H, title, ha='center', va='center', color='white',
         fontsize=12.8, fontweight='bold', fontstretch='condensed')
fig.text(120 / W, 1 - 599 / H, 'GFS Ensemble, 52N, 5E', ha='left', va='center',
         color='#e8e8e8', fontsize=11.5)
fig.text(721 / W, 1 - 599 / H, 'Wetterzentrale.de', ha='center', va='center',
         color='#e8e8e8', fontsize=11.5)

# legend: row-major order P1 P2 / P3 P4 ... / Control Ens. mean / Oper
col1 = [(member_names[k], member_colors[k]) for k in range(0, 30, 2)] + \
       [('Control', ctrl_color), ('Oper', oper_color)]
col2 = [(member_names[k], member_colors[k]) for k in range(1, 30, 2)] + \
       [('Ens. mean', mean_color)]
entries = col1 + col2
handles = [Line2D([0], [0], color=c, lw=1.6) for _, c in entries]
labels = [n for n, _ in entries]
fig.legend(handles, labels, loc='upper left', bbox_to_anchor=(0.0, 1 - 35 / H),
           ncol=2, frameon=False, fontsize=8, labelcolor='white',
           handlelength=0.75, handletextpad=0.1, columnspacing=0.6,
           labelspacing=0.46, borderpad=0, borderaxespad=0)

fig.savefig('out.png', dpi=100, facecolor='black')
